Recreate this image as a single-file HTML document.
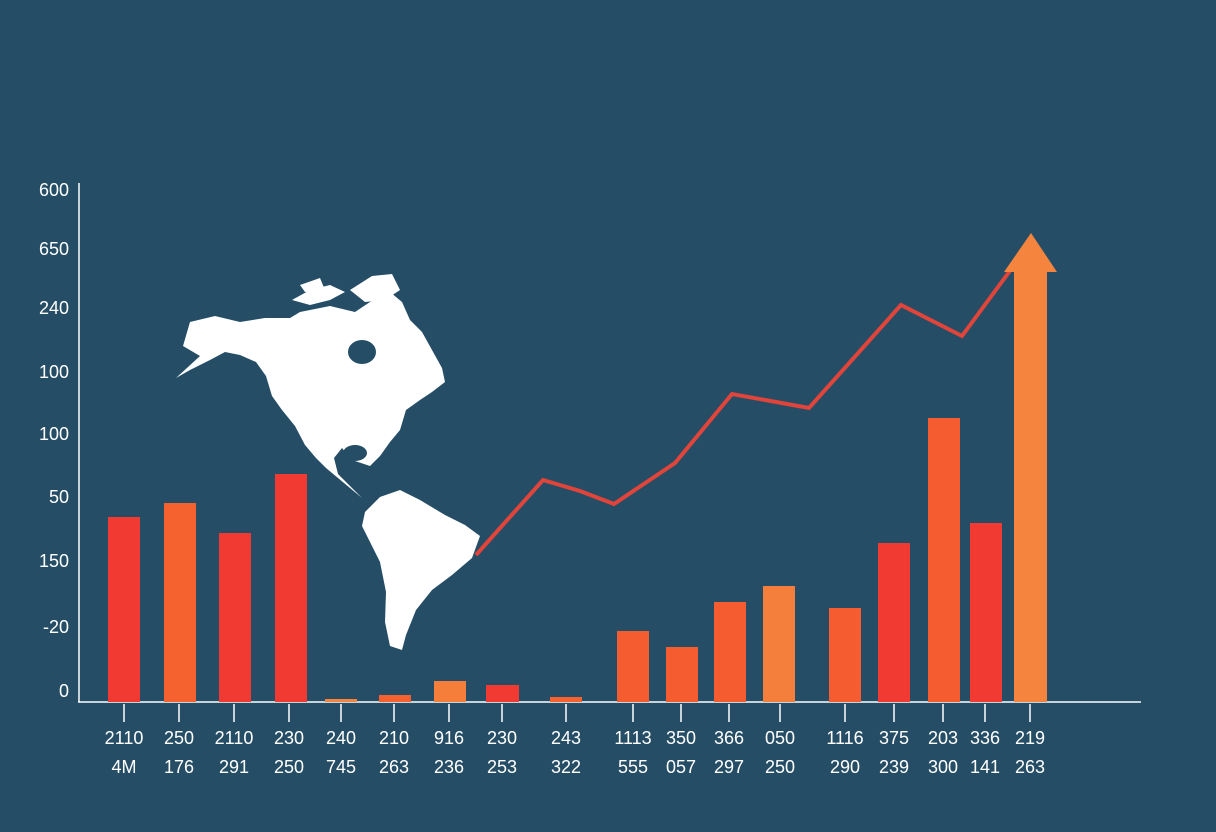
<!DOCTYPE html>
<html><head><meta charset="utf-8"><style>
html,body{margin:0;padding:0;background:#254e66;}
svg{display:block}
text{font-family:"Liberation Sans",sans-serif;fill:#fff;font-size:18px}
</style></head><body>
<svg width="1216" height="832" viewBox="0 0 1216 832">
<rect width="1216" height="832" fill="#254e66"/>
<g fill="#fff">
<path d="M176,378 L200,356 L183,346 L190,322 L215,316 L240,322 L265,318 L290,318 L300,312 L330,306 L355,312 L370,302 L390,292 L402,302 L410,320 L422,332 L432,350 L442,368 L445,382 L432,392 L420,400 L406,410 L400,430 L390,442 L380,456 L370,466 L352,460 L342,448 L334,458 L338,474 L348,484 L358,494 L362,498 L350,488 L338,478 L326,468 L316,458 L305,445 L295,426 L282,410 L272,396 L266,376 L256,362 L240,355 L225,352 L210,360 L190,370 Z"/>
<path d="M292,300 L310,290 L330,285 L345,292 L330,300 L310,305 Z"/>
<path d="M350,290 L372,276 L392,274 L400,290 L385,300 L365,302 Z"/>
<path d="M300,285 L320,278 L325,290 L305,292 Z"/>
<path d="M365,512 L380,497 L400,490 L420,500 L445,515 L465,525 L480,536 L472,558 L452,575 L432,590 L416,610 L406,635 L402,650 L390,646 L385,622 L386,592 L380,562 L370,542 L362,526 Z"/>
</g>
<g fill="#254e66"><ellipse cx="362" cy="352" rx="14" ry="12"/><ellipse cx="355" cy="453" rx="12" ry="8"/></g>
<line x1="79" y1="183" x2="79" y2="702" stroke="#fff" stroke-width="1.5"/>
<line x1="78" y1="702" x2="1141" y2="702" stroke="#fff" stroke-width="1.5"/>
<g text-anchor="end">
<text x="69" y="196">600</text><text x="69" y="255">650</text><text x="69" y="314">240</text>
<text x="69" y="378">100</text><text x="69" y="440">100</text><text x="69" y="503">50</text>
<text x="69" y="567">150</text><text x="69" y="633">-20</text><text x="69" y="697">0</text>
</g>
<rect x="108" y="517" width="32" height="185" fill="#f03a32"/>
<rect x="164" y="503" width="32" height="199" fill="#f5612f"/>
<rect x="219" y="533" width="32" height="169" fill="#f03a32"/>
<rect x="275" y="474" width="32" height="228" fill="#f03a32"/>
<rect x="325" y="699" width="32" height="3" fill="#f5843e"/>
<rect x="379" y="695" width="32" height="7" fill="#f5612f"/>
<rect x="434" y="681" width="32" height="21" fill="#f57f3a"/>
<rect x="486" y="685" width="33" height="17" fill="#f03a32"/>
<rect x="550" y="697" width="32" height="5" fill="#f5612f"/>
<rect x="617" y="631" width="32" height="71" fill="#f55c30"/>
<rect x="666" y="647" width="32" height="55" fill="#f55c30"/>
<rect x="714" y="602" width="32" height="100" fill="#f55c30"/>
<rect x="763" y="586" width="32" height="116" fill="#f47f3c"/>
<rect x="829" y="608" width="32" height="94" fill="#f55c30"/>
<rect x="878" y="543" width="32" height="159" fill="#f03a32"/>
<rect x="928" y="418" width="32" height="284" fill="#f55c30"/>
<rect x="970" y="523" width="32" height="179" fill="#f03a32"/>
<polyline points="476,555 543,480 580,491 614,504 675,463 732,394 809,408 901,305 962,336 1012,268" fill="none" stroke="#e0443a" stroke-width="4"/>
<rect x="1014" y="270" width="33" height="432" fill="#f5843e"/>
<polygon points="1004,272 1031,233 1057,272" fill="#f5843e"/>
<g stroke="#fff" stroke-width="1.5">
<line x1="124" y1="704" x2="124" y2="722"/><line x1="179" y1="704" x2="179" y2="722"/><line x1="234" y1="704" x2="234" y2="722"/><line x1="289" y1="704" x2="289" y2="722"/><line x1="341" y1="704" x2="341" y2="722"/><line x1="394" y1="704" x2="394" y2="722"/><line x1="449" y1="704" x2="449" y2="722"/><line x1="502" y1="704" x2="502" y2="722"/><line x1="566" y1="704" x2="566" y2="722"/><line x1="633" y1="704" x2="633" y2="722"/><line x1="681" y1="704" x2="681" y2="722"/><line x1="729" y1="704" x2="729" y2="722"/><line x1="780" y1="704" x2="780" y2="722"/><line x1="845" y1="704" x2="845" y2="722"/><line x1="894" y1="704" x2="894" y2="722"/><line x1="943" y1="704" x2="943" y2="722"/><line x1="985" y1="704" x2="985" y2="722"/><line x1="1030" y1="704" x2="1030" y2="722"/>
</g>
<g text-anchor="middle">
<text x="124" y="744">2110</text><text x="124" y="773">4M</text>
<text x="179" y="744">250</text><text x="179" y="773">176</text>
<text x="234" y="744">2110</text><text x="234" y="773">291</text>
<text x="289" y="744">230</text><text x="289" y="773">250</text>
<text x="341" y="744">240</text><text x="341" y="773">745</text>
<text x="394" y="744">210</text><text x="394" y="773">263</text>
<text x="449" y="744">916</text><text x="449" y="773">236</text>
<text x="502" y="744">230</text><text x="502" y="773">253</text>
<text x="566" y="744">243</text><text x="566" y="773">322</text>
<text x="633" y="744">1113</text><text x="633" y="773">555</text>
<text x="681" y="744">350</text><text x="681" y="773">057</text>
<text x="729" y="744">366</text><text x="729" y="773">297</text>
<text x="780" y="744">050</text><text x="780" y="773">250</text>
<text x="845" y="744">1116</text><text x="845" y="773">290</text>
<text x="894" y="744">375</text><text x="894" y="773">239</text>
<text x="943" y="744">203</text><text x="943" y="773">300</text>
<text x="985" y="744">336</text><text x="985" y="773">141</text>
<text x="1030" y="744">219</text><text x="1030" y="773">263</text>
</g>
</svg>
</body></html>
